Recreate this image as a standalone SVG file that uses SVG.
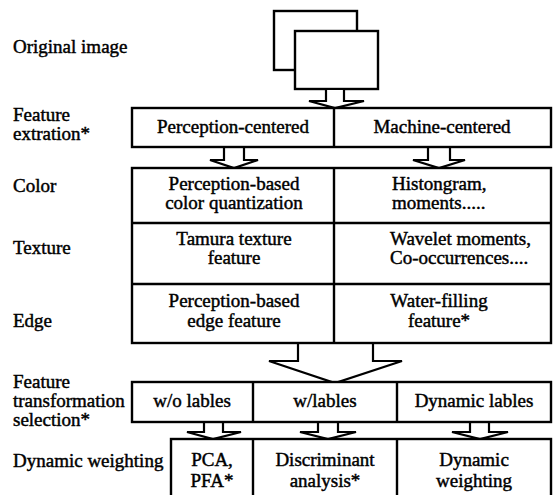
<svg xmlns="http://www.w3.org/2000/svg" width="553" height="495" viewBox="0 0 553 495">
<style>
text{font-family:"Liberation Serif","Times New Roman",serif;font-size:19px;fill:#000;stroke:#000;stroke-width:0.45}
.c{text-anchor:middle}
.box{fill:#fff;stroke:#000;stroke-width:2.4}
.ln{fill:none;stroke:#000;stroke-width:2.4}
.arr{fill:#fff;stroke:#000;stroke-width:2.2;stroke-linejoin:miter}
</style>
<rect width="553" height="495" fill="#fff"/>
<g id="labels">
<text x="13" y="53">Original image</text>
<text x="13" y="121">Feature</text>
<text x="13" y="140">extration*</text>
<text x="13" y="192">Color</text>
<text x="13" y="254">Texture</text>
<text x="13" y="327">Edge</text>
<text x="13" y="388">Feature</text>
<text x="13" y="407">transformation</text>
<text x="13" y="426">selection*</text>
<text x="13" y="467">Dynamic weighting</text>
</g>
<g id="original-image">
<rect class="box" x="274" y="11" width="83" height="59"/>
<rect class="box" x="295" y="31" width="83" height="58"/>
</g>
<g id="connectors">
<polygon class="arr" points="326,89 326,101 309,101 335,108 364,101 344,101 344,89"/>
<polygon class="arr" points="224,147 224,160 210,160 234,168 258,160 244,160 244,147"/>
<polygon class="arr" points="428,147 428,160 413,160 439,168 465,160 450,160 450,147"/>
<polygon class="arr" points="298,343 298,361 269,361 335,383 402,361 373,361 373,343"/>
<polygon class="arr" points="204,422 204,432 187,432 213,439 241,432 223,432 223,422"/>
<polygon class="arr" points="318,422 318,432 300,432 328,439 356,432 338,432 338,422"/>
<polygon class="arr" points="470,422 470,432 452,432 480,439 508,432 489,432 489,422"/>
</g>
<g id="feature-extraction">
<rect class="box" x="132" y="108" width="419" height="39"/>
<line class="ln" x1="334" y1="108" x2="334" y2="147"/>
<text class="c" x="233" y="133">Perception-centered</text>
<text class="c" x="442" y="133">Machine-centered</text>
</g>
<g id="features">
<rect class="box" x="132" y="168" width="419" height="175"/>
<line class="ln" x1="334" y1="168" x2="334" y2="343"/>
<line class="ln" x1="132" y1="223" x2="551" y2="223"/>
<line class="ln" x1="132" y1="284" x2="551" y2="284"/>
<text class="c" x="234" y="190">Perception-based</text>
<text class="c" x="234" y="209">color quantization</text>
<text x="392" y="190">Histongram,</text>
<text x="392" y="209">moments.....</text>
<text class="c" x="234" y="245">Tamura texture</text>
<text class="c" x="234" y="264">feature</text>
<text x="390" y="245">Wavelet moments,</text>
<text x="390" y="264">Co-occurrences....</text>
<text class="c" x="234" y="307">Perception-based</text>
<text class="c" x="234" y="327">edge feature</text>
<text class="c" x="439" y="307">Water-filling</text>
<text class="c" x="439" y="327">feature*</text>
</g>
<g id="transformation">
<rect class="box" x="132" y="382" width="419" height="40"/>
<line class="ln" x1="253" y1="382" x2="253" y2="422"/>
<line class="ln" x1="397" y1="382" x2="397" y2="422"/>
<text class="c" x="192" y="407">w/o lables</text>
<text class="c" x="325" y="407">w/lables</text>
<text class="c" x="474" y="407">Dynamic lables</text>
</g>
<g id="weighting">
<rect class="box" x="171" y="439" width="380" height="60"/>
<line class="ln" x1="253" y1="439" x2="253" y2="499"/>
<line class="ln" x1="397" y1="439" x2="397" y2="499"/>
<text class="c" x="212" y="466">PCA,</text>
<text class="c" x="212" y="487">PFA*</text>
<text class="c" x="325" y="466">Discriminant</text>
<text class="c" x="325" y="487">analysis*</text>
<text class="c" x="474" y="466">Dynamic</text>
<text class="c" x="474" y="487">weighting</text>
</g>
</svg>
